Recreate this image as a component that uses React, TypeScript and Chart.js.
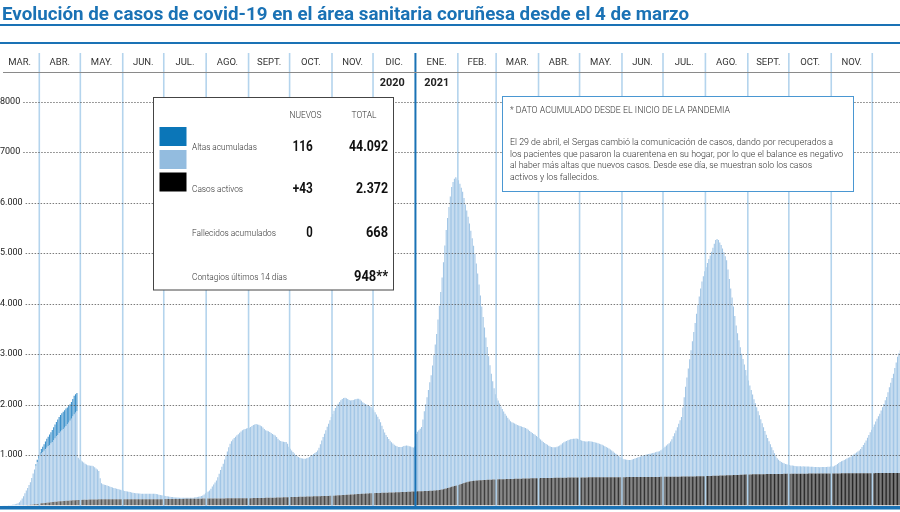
import React, { useEffect, useRef } from 'react';
import { Chart, registerables } from 'chart.js';
Chart.register(...registerables);

const TITLE = 'Evolución de casos de covid-19 en el área sanitaria coruñesa desde el 4 de marzo';
const START = { y: 2020, m: 2, d: 4 }; // 4 de marzo de 2020
const MONTH_LABELS = ['MAR.', 'ABR.', 'MAY.', 'JUN.', 'JUL.', 'AGO.', 'SEPT.', 'OCT.', 'NOV.', 'DIC.', 'ENE.', 'FEB.', 'MAR.', 'ABR.', 'MAY.', 'JUN.', 'JUL.', 'AGO.', 'SEPT.', 'OCT.', 'NOV.', ''];
const YEAR_LABELS = ['2020', '2021'];
const YEAR_COLUMNS = [9, 10];
const Y_TICKS = [1000, 2000, 3000, 4000, 5000, 6000, 7000, 8000];
const Y_TICK_LABELS = ['1.000', '2.000', '3.000', '4.000', '5.000', '6.000', '7000', '8000'];

const LEGEND_LABELS = ['Altas acumuladas', 'Casos activos', 'Fallecidos acumulados', 'Contagios últimos 14 días'];
const LEGEND_NUEVOS = ['116', '+43', '0', ''];
const LEGEND_TOTAL = ['44.092', '2.372', '668', '948**'];
const NOTE_TITLE = '* DATO ACUMULADO DESDE EL INICIO DE LA PANDEMIA';
const NOTE_LINES = [
  'El 29 de abril, el Sergas cambió la comunicación de casos, dando por recuperados a',
  'los pacientes que pasaron la cuarentena en su hogar, por lo que el balance es negativo',
  'al haber más altas que nuevos casos. Desde ese día, se muestran solo los casos',
  'activos y los fallecidos.',
];

// Altas acumuladas (solo hasta el 28 de abril de 2020)
const ALTAS = [
  0, 0, 0, 0, 0, 0, 0, 0, 0, 0, 0, 0, 0, 0, 0, 0, 0, 0, 0, 0, 0, 0, 0, 0, 0, 30, 45, 55,
  67, 90, 110, 130, 155, 175, 190, 205, 220, 240, 260, 275, 290, 305, 320, 335, 340, 345, 345, 350, 340, 335, 330, 330, 350, 370, 370, 360,
];

// Casos activos, un valor por día desde el 4 de marzo de 2020
const ACTIVOS = [
  // mar 2020
  2, 3, 4, 5, 6, 8, 10, 12, 15, 20, 26, 34, 45, 63, 95, 135, 180, 235, 290, 340, 395, 450, 530, 615, 690, 760, 830, 890,
  // abr
  950, 985, 1010, 1035, 1060, 1090, 1115, 1140, 1165, 1190, 1220, 1255, 1290, 1320, 1350, 1375, 1400, 1425, 1450, 1480, 1510, 1545, 1580, 1620, 1660, 1700, 1730, 1760, 840, 800,
  // may
  780, 760, 740, 715, 695, 680, 675, 670, 668, 660, 640, 610, 590, 560, 420, 320, 300, 290, 280, 272, 262, 250, 240, 230, 222, 215, 208, 200, 192, 185, 178,
  // jun
  170, 163, 157, 150, 145, 140, 134, 128, 124, 120, 117, 114, 111, 109, 108, 107, 107, 108, 108, 108, 107, 107, 106, 105, 100, 95, 88, 82, 77, 72,
  // jul
  68, 62, 56, 50, 45, 40, 37, 34, 31, 29, 27, 25, 24, 23, 22, 21, 21, 20, 20, 21, 21, 22, 24, 27, 31, 36, 42, 50, 62, 80, 105,
  // ago
  125, 140, 160, 195, 235, 275, 315, 356, 420, 490, 560, 625, 686, 770, 850, 930, 1010, 1082, 1130, 1165, 1195, 1220, 1246, 1270, 1295, 1320, 1345, 1360, 1370, 1380, 1390,
  // sept
  1395, 1410, 1430, 1450, 1460, 1465, 1458, 1450, 1438, 1420, 1395, 1365, 1340, 1330, 1320, 1300, 1280, 1260, 1245, 1230, 1200, 1165, 1135, 1120, 1110, 1100, 1095, 1094, 1060, 1000,
  // oct
  960, 925, 890, 860, 830, 805, 788, 775, 765, 758, 752, 752, 760, 770, 785, 805, 820, 840, 860, 880, 905, 960, 1030, 1100, 1170, 1235, 1300, 1370, 1430, 1500, 1561,
  // nov
  1620, 1680, 1735, 1780, 1817, 1850, 1880, 1905, 1920, 1926, 1915, 1895, 1875, 1865, 1864, 1870, 1880, 1888, 1890, 1885, 1870, 1845, 1815, 1790, 1775, 1760, 1745, 1730, 1710, 1680,
  // dic
  1640, 1600, 1555, 1510, 1460, 1400, 1330, 1260, 1195, 1145, 1100, 1060, 1025, 995, 968, 945, 925, 910, 898, 893, 895, 900, 910, 918, 921, 915, 905, 895, 880, 875, 890,
  // ene 2021
  1140, 1180, 1210, 1240, 1270, 1420, 1580, 1720, 1860, 2000, 2150, 2290, 2480, 2680, 2890, 3100, 3380, 3650, 3920, 4200, 4500, 4820, 5120, 5350, 5560, 5760, 5940, 6030, 6090, 6110, 6080,
  // feb
  6040, 5960, 5870, 5780, 5650, 5510, 5380, 5250, 5110, 4960, 4810, 4660, 4490, 4300, 4100, 3880, 3660, 3440, 3230, 3020, 2820, 2630, 2450, 2270, 2100, 1950, 1810, 1690,
  // mar
  1610, 1560, 1500, 1440, 1390, 1340, 1297, 1255, 1215, 1180, 1145, 1125, 1110, 1095, 1080, 1065, 1055, 1045, 1035, 1022, 1010, 1000, 985, 965, 940, 920, 900, 880, 860, 835, 815,
  // abr
  790, 765, 740, 715, 692, 675, 658, 640, 625, 612, 608, 606, 608, 615, 625, 640, 660, 680, 700, 715, 728, 740, 750, 758, 763, 766, 768, 769, 765, 755,
  // may
  742, 730, 719, 715, 712, 713, 716, 715, 712, 705, 698, 690, 682, 673, 665, 655, 643, 630, 615, 600, 585, 568, 550, 530, 508, 486, 466, 445, 425, 405, 385,
  // jun
  366, 355, 347, 341, 338, 337, 340, 347, 355, 365, 375, 386, 396, 406, 416, 427, 435, 442, 448, 454, 459, 466, 473, 480, 488, 496, 503, 510, 525, 545,
  // jul
  570, 595, 620, 645, 666, 700, 745, 800, 860, 916, 980, 1050, 1115, 1180, 1370, 1570, 1780, 1960, 2140, 2320, 2500, 2680, 2860, 3040, 3220, 3390, 3560, 3720, 3860, 3960, 4060,
  // ago
  4140, 4220, 4300, 4370, 4440, 4520, 4600, 4670, 4690, 4670, 4620, 4570, 4500, 4420, 4340, 4260, 4080, 3890, 3700, 3520, 3340, 3150, 2960, 2810, 2670, 2530, 2400, 2290, 2180, 2070, 1960,
  // sept
  1860, 1760, 1670, 1580, 1490, 1410, 1330, 1250, 1170, 1090, 1010, 930, 855, 780, 715, 650, 590, 530, 470, 410, 350, 310, 280, 255, 235, 220, 208, 196, 188, 180,
  // oct
  172, 166, 161, 157, 154, 151, 149, 147, 146, 145, 145, 144, 143, 142, 140, 138, 136, 134, 132, 130, 129, 128, 127, 127, 127, 128, 129, 130, 132, 134, 136,
  // nov
  137, 140, 150, 165, 185, 205, 224, 240, 252, 264, 277, 292, 306, 320, 335, 352, 370, 390, 410, 430, 450, 480, 520, 560, 605, 650, 700, 755, 810, 860,
  // dic
  912, 965, 1020, 1075, 1125, 1177, 1240, 1305, 1370, 1440, 1506, 1600, 1700, 1790, 1880, 1968, 2080, 2190, 2300, 2370, 2430,
];

// Fallecidos acumulados, un valor por día
const FALLECIDOS = [
  // mar 2020
  0, 0, 0, 0, 0, 0, 0, 0, 0, 1, 1, 1, 2, 2, 3, 4, 5, 6, 7, 9, 11, 13, 16, 19, 23, 27, 31, 35,
  // abr
  40, 43, 46, 49, 52, 55, 58, 61, 64, 67, 70, 73, 76, 79, 82, 84, 86, 88, 90, 92, 94, 96, 98, 100, 102, 104, 106, 107, 108, 110,
  // may
  111, 112, 113, 114, 115, 116, 117, 118, 119, 120, 120, 121, 121, 122, 122, 123, 123, 123, 124, 124, 124, 124, 125, 125, 125, 125, 125, 125, 125, 125, 125,
  // jun
  125, 125, 125, 125, 125, 125, 125, 125, 125, 125, 125, 125, 125, 125, 125, 126, 126, 126, 126, 126, 126, 126, 126, 126, 126, 126, 126, 126, 126, 126,
  // jul
  127, 127, 127, 128, 128, 128, 129, 129, 129, 130, 130, 130, 131, 131, 131, 132, 132, 132, 133, 133, 133, 134, 134, 134, 135, 135, 136, 136, 137, 137, 138,
  // ago
  138, 138, 139, 139, 139, 139, 140, 140, 140, 140, 141, 141, 141, 141, 142, 142, 142, 142, 143, 143, 143, 143, 144, 144, 144, 144, 144, 145, 145, 145, 145,
  // sept
  145, 146, 146, 147, 147, 148, 148, 149, 149, 150, 150, 151, 152, 152, 153, 154, 154, 155, 156, 156, 157, 158, 158, 159, 160, 161, 162, 163, 164, 165,
  // oct
  166, 167, 168, 169, 169, 170, 171, 172, 173, 174, 175, 175, 176, 177, 178, 179, 180, 181, 181, 182, 183, 184, 185, 186, 187, 188, 189, 189, 190, 191, 192,
  // nov
  194, 195, 197, 199, 201, 202, 204, 206, 208, 210, 211, 213, 215, 217, 219, 220, 222, 224, 226, 228, 229, 231, 233, 235, 236, 238, 240, 241, 243, 244,
  // dic
  245, 246, 247, 248, 249, 250, 251, 252, 253, 254, 255, 256, 257, 258, 259, 260, 261, 262, 263, 264, 265, 266, 267, 268, 269, 270, 271, 273, 275, 276, 278,
  // ene 2021
  279, 280, 281, 282, 283, 284, 285, 286, 287, 288, 290, 292, 294, 296, 298, 300, 303, 306, 310, 315, 320, 330, 338, 346, 354, 362, 370, 378, 385, 391, 397,
  // feb
  405, 414, 424, 434, 444, 454, 463, 470, 476, 481, 485, 488, 491, 494, 496, 498, 500, 502, 504, 506, 507, 508, 509, 510, 512, 513, 514, 516,
  // mar
  517, 518, 519, 520, 521, 522, 522, 523, 524, 525, 526, 526, 527, 528, 529, 530, 530, 531, 532, 533, 534, 534, 535, 536, 537, 538, 538, 539, 540, 541, 542,
  // abr
  542, 543, 543, 544, 544, 545, 545, 546, 546, 547, 547, 548, 548, 549, 549, 550, 550, 551, 551, 552, 552, 553, 553, 554, 554, 555, 555, 556, 556, 556,
  // may
  556, 556, 557, 557, 557, 557, 558, 558, 558, 558, 558, 559, 559, 559, 559, 559, 560, 560, 560, 560, 560, 561, 561, 561, 561, 561, 561, 562, 562, 562, 562,
  // jun
  562, 562, 562, 563, 563, 563, 563, 563, 564, 564, 564, 564, 564, 565, 565, 565, 565, 565, 566, 566, 566, 566, 566, 567, 567, 567, 567, 567, 568, 568,
  // jul
  568, 568, 569, 569, 569, 570, 570, 570, 571, 571, 572, 572, 572, 573, 573, 574, 574, 574, 575, 575, 576, 576, 577, 577, 578, 578, 579, 579, 580, 580, 581,
  // ago
  582, 583, 584, 585, 586, 587, 588, 589, 590, 591, 592, 593, 594, 595, 596, 597, 598, 599, 600, 601, 602, 603, 604, 605, 606, 607, 608, 610, 612, 613, 615,
  // sept
  615, 616, 616, 617, 617, 618, 618, 619, 619, 620, 620, 621, 621, 622, 622, 623, 623, 623, 624, 624, 624, 625, 625, 625, 626, 626, 627, 627, 628, 628,
  // oct
  628, 628, 629, 629, 629, 629, 630, 630, 630, 630, 631, 631, 631, 631, 632, 632, 632, 632, 633, 633, 633, 633, 633, 634, 634, 634, 634, 634, 635, 635, 635,
  // nov
  635, 635, 636, 636, 636, 636, 636, 637, 637, 637, 637, 637, 638, 638, 638, 638, 638, 639, 639, 639, 639, 639, 640, 640, 640, 640, 640, 641, 641, 641,
  // dic
  641, 641, 642, 642, 642, 642, 642, 643, 643, 643, 643, 643, 644, 644, 644, 644, 644, 645, 645, 645, 645,
];

const BLUE = '#1a72b5';
const FONT = 'Roboto, "Noto Sans", sans-serif';

function drawText(
  ctx: CanvasRenderingContext2D, s: string, x: number, y: number, font: string, color: string,
  align: CanvasTextAlign = 'left', width = 0, baseline: CanvasTextBaseline = 'alphabetic'
) {
  if (!s) return;
  ctx.save();
  ctx.font = font;
  ctx.fillStyle = color;
  ctx.textAlign = align;
  ctx.textBaseline = baseline;
  let sx = 1;
  if (width > 0) {
    const m = ctx.measureText(s).width;
    if (m > 0) sx = width / m;
  }
  ctx.translate(x, y);
  ctx.scale(sx, 1);
  ctx.fillText(s, 0, 0);
  ctx.restore();
}

export default function App() {
  const ref = useRef<HTMLCanvasElement | null>(null);

  useEffect(() => {
    const canvas = ref.current;
    if (!canvas) return;
    const N = ACTIVOS.length;
    const dates = ACTIVOS.map((_, i) => new Date(Date.UTC(START.y, START.m, START.d + i)));
    const labels = dates.map((d) => d.toISOString().slice(0, 10));
    // first day index of each month column
    const monthStarts: number[] = [];
    dates.forEach((d, i) => {
      if (i === 0 || d.getUTCDate() === 1) monthStarts.push(i);
    });
    const darkColors = FALLECIDOS.map((_, i) => {
      const t = i / (N - 1);
      const v = Math.round(96 - 62 * t);
      return `rgb(${v},${v},${v})`;
    });

    const overlay = {
      id: 'overlay',
      afterDatasetsDraw(chart: any) {
        const ctx: CanvasRenderingContext2D = chart.ctx;
        const xs = chart.scales.x;
        const ys = chart.scales.y;
        const step = (xs.right - xs.left) / N;
        const bx = (i: number) => xs.left + i * step;
        ctx.save();
        // month separators
        monthStarts.forEach((i, j) => {
          if (j === 0 || j === YEAR_COLUMNS[1]) return;
          const px = bx(i);
          ctx.strokeStyle = '#b4d4ed';
          ctx.lineWidth = 1.6;
          ctx.beginPath();
          ctx.moveTo(px, 53);
          ctx.lineTo(px, 506);
          ctx.stroke();
        });
        // horizontal gridlines and labels
        Y_TICKS.forEach((v, k) => {
          const py = ys.getPixelForValue(v);
          const lab = Y_TICK_LABELS[k];
          ctx.font = `400 9px ${FONT}`;
          const w = ctx.measureText(lab).width;
          drawText(ctx, lab, 0, py, `400 9px ${FONT}`, '#222', 'left', 0, 'middle');
          ctx.strokeStyle = 'rgba(80,80,80,0.75)';
          ctx.lineWidth = 1;
          ctx.setLineDash([1.5, 1.5]);
          ctx.beginPath();
          ctx.moveTo(w + 3, Math.round(py) + 0.5);
          ctx.lineTo(901, Math.round(py) + 0.5);
          ctx.stroke();
          ctx.setLineDash([]);
        });
        // year divider
        const yx = bx(monthStarts[YEAR_COLUMNS[1]]);
        ctx.strokeStyle = BLUE;
        ctx.lineWidth = 2;
        ctx.beginPath();
        ctx.moveTo(yx, 53);
        ctx.lineTo(yx, 509);
        ctx.stroke();
        // baseline
        ctx.fillStyle = BLUE;
        ctx.fillRect(0, 506, 901, 3.5);
        ctx.restore();
      },
      afterDraw(chart: any) {
        const ctx: CanvasRenderingContext2D = chart.ctx;
        const xs = chart.scales.x;
        const step = (xs.right - xs.left) / N;
        const bx = (i: number) => xs.left + i * step;
        ctx.save();
        // title and rules
        drawText(ctx, TITLE, 2, 20, `700 18px ${FONT}`, BLUE, 'left', 687);
        ctx.fillStyle = BLUE;
        ctx.fillRect(0, 24, 901, 2);
        ctx.fillRect(0, 42, 901, 2);
        // month labels
        monthStarts.forEach((i, j) => {
          const left = j === 0 ? 0 : bx(i);
          const right = j + 1 < monthStarts.length ? bx(monthStarts[j + 1]) : 900;
          drawText(ctx, MONTH_LABELS[j], (left + right) / 2, 64.5, `400 9.5px ${FONT}`, '#333', 'center');
          const yi = YEAR_COLUMNS.indexOf(j);
          if (yi >= 0) {
            drawText(ctx, YEAR_LABELS[yi], (left + right) / 2 - (yi === 0 ? 2 : 0), 85.5, `700 10.5px ${FONT}`, '#222', 'center', 25);
          }
        });
        ctx.strokeStyle = '#8a8a8a';
        ctx.lineWidth = 1;
        ctx.beginPath();
        ctx.moveTo(3, 72.5);
        ctx.lineTo(901, 72.5);
        ctx.stroke();

        // legend box
        ctx.fillStyle = '#fff';
        ctx.fillRect(153.5, 97, 240, 193);
        ctx.strokeStyle = '#444';
        ctx.lineWidth = 1;
        ctx.strokeRect(153.5, 97.5, 240, 192.5);
        const swatches = ['#0b76b8', '#93bcdf', '#000000'];
        const swY = [127, 150, 172.5];
        swatches.forEach((c, k) => {
          ctx.fillStyle = c;
          ctx.fillRect(159.5, swY[k], 27, 19);
        });
        drawText(ctx, 'NUEVOS', 305.5, 117.7, `300 9px ${FONT}`, '#333', 'center', 32);
        drawText(ctx, 'TOTAL', 364, 117.7, `300 9px ${FONT}`, '#333', 'center', 25);
        const rowBase = [150.5, 193.3, 236.5, 280.5];
        const labW = [65, 51, 84, 95];
        const nW = [20.3, 20, 6.5, 0];
        const tW = [39, 32, 22, 34];
        LEGEND_LABELS.forEach((lab, k) => {
          drawText(ctx, lab, 192, rowBase[k] - 1, `300 9.5px ${FONT}`, '#333', 'left', labW[k]);
          drawText(ctx, LEGEND_NUEVOS[k], 312.7, rowBase[k], `700 15px ${FONT}`, '#111', 'right', nW[k]);
          drawText(ctx, LEGEND_TOTAL[k], 388, rowBase[k], `700 15px ${FONT}`, '#111', 'right', tW[k]);
        });

        // note box
        ctx.fillStyle = '#fff';
        ctx.fillRect(502, 97, 351, 95);
        ctx.strokeStyle = '#4a97d2';
        ctx.lineWidth = 1;
        ctx.strokeRect(502.5, 96.5, 351, 95);
        drawText(ctx, NOTE_TITLE, 510, 113.3, `300 9.5px ${FONT}`, '#333', 'left', 220);
        const noteW = [323, 333, 302, 89];
        const noteY = [145, 156.7, 168.4, 180];
        NOTE_LINES.forEach((line, k) => {
          drawText(ctx, line, 510, noteY[k], `300 9.5px ${FONT}`, '#333', 'left', noteW[k]);
        });
        ctx.restore();
      },
    };

    const chart = new Chart(canvas, {
      type: 'bar',
      data: {
        labels,
        datasets: [
          { label: 'Fallecidos acumulados', data: FALLECIDOS, backgroundColor: darkColors, borderWidth: 0 },
          { label: 'Casos activos', data: ACTIVOS, backgroundColor: '#a2c6e6', borderWidth: 0 },
          { label: 'Altas acumuladas', data: ALTAS, backgroundColor: '#3d91cb', borderWidth: 0 },
        ],
      },
      options: {
        responsive: false,
        animation: false,
        devicePixelRatio: 1,
        layout: { padding: { left: 1, right: 0, top: 101.7, bottom: 6.5 } },
        datasets: { bar: { barPercentage: 1, categoryPercentage: 0.8 } },
        plugins: { legend: { display: false }, tooltip: { enabled: false }, title: { display: false } },
        scales: {
          x: { stacked: true, display: false },
          y: { stacked: true, display: false, min: 0, max: 8000 },
        },
      } as any,
      plugins: [overlay],
    });
    return () => chart.destroy();
  }, []);

  return (
    <div style={{ position: 'fixed', left: 0, top: 0, width: 900, height: 512, overflow: 'hidden', background: '#fff' }}>
      <canvas ref={ref} width={901} height={512} style={{ display: 'block', width: 901, height: 512 }} />
    </div>
  );
}
